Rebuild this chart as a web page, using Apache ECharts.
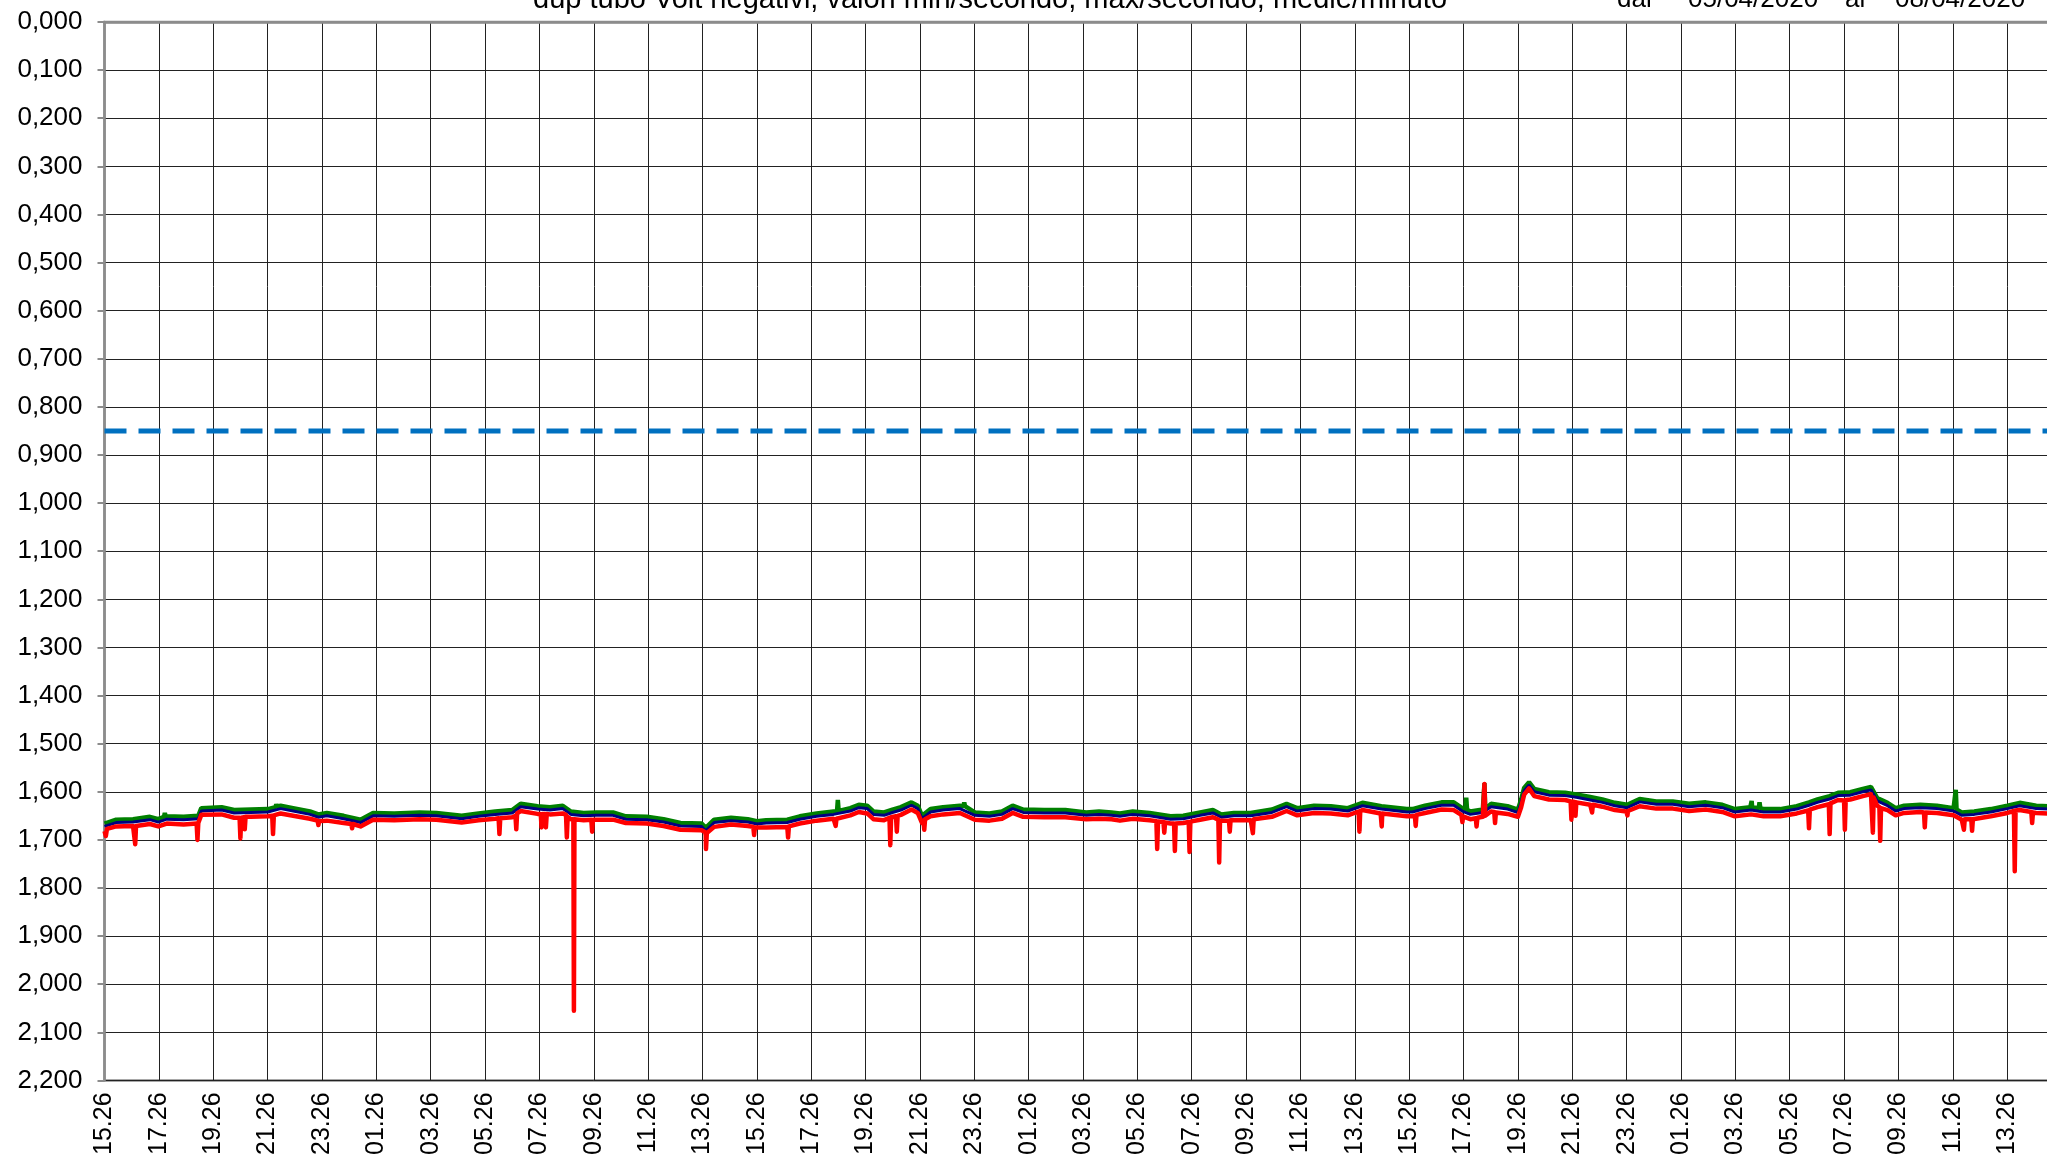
<!DOCTYPE html>
<html>
<head>
<meta charset="utf-8">
<script src="https://cdn.jsdelivr.net/npm/echarts@6/dist/echarts.min.js"></script>
<style>
  html, body { margin: 0; padding: 0; background: #fff; overflow: hidden; }
  #chart { width: 2100px; height: 1158px; }
</style>
</head>
<body>
<div id="chart"></div>
<script>
// ore dall'inizio (15.26)
const tickLabels = ['15.26','17.26','19.26','21.26','23.26','01.26','03.26','05.26','07.26','09.26','11.26','13.26',
  '15.26','17.26','19.26','21.26','23.26','01.26','03.26','05.26','07.26','09.26','11.26','13.26',
  '15.26','17.26','19.26','21.26','23.26','01.26','03.26','05.26','07.26','09.26','11.26','13.26','15.26'];

const hours = [0, 0.43, 1.05, 1.67, 1.98, 2.29, 2.91, 3.45, 3.56, 4.31, 4.77, 5.39, 6.01, 6.48, 6.94, 7.56, 7.87, 8.18, 8.8, 9.42,
  9.88, 10.66, 11.59, 12.21, 13.14, 13.76, 14.38, 15.0, 15.31, 15.93, 16.39, 16.86, 17.16, 17.63, 18.09, 18.71, 19.18, 19.95, 20.57, 21.19,
  21.97, 22.12, 22.43, 23.05, 23.67, 24.0, 24.34, 25.12, 25.58, 26.2, 26.82, 27.44, 27.75, 28.06, 28.29, 28.68, 28.99, 29.3, 29.69, 29.92,
  30.08, 30.39, 30.85, 31.47, 32.02, 32.56, 33.02, 33.41, 33.8, 34.57, 35.35, 36.12, 36.59, 37.05, 37.36, 37.83, 38.45, 39.22, 39.69, 40.31,
  40.78, 41.09, 41.55, 42.17, 42.95, 43.49, 43.88, 44.5, 45.12, 45.74, 46.28, 46.98, 47.91, 48.12, 48.58, 49.19, 49.64, 49.95, 50.25, 50.71,
  51.01, 51.62, 52.0, 52.12, 52.23, 52.41, 52.6, 53.14, 53.74, 54.2, 54.66, 55.11, 55.57, 56.02, 56.48, 57.09, 57.7, 58.3, 58.91, 59.52,
  59.98, 60.58, 61.04, 61.65, 62.26, 62.71, 63.02, 63.47, 63.78, 64.23, 64.69, 64.99, 65.22, 65.6, 65.9, 66.21, 66.81, 67.42, 68.03, 68.33,
  68.79, 69.4, 70.01, 70.46, 71.07, 71.5, 72];

const mediaMinuto = [1.672, 1.664, 1.663, 1.658, 1.663, 1.657, 1.658, 1.656, 1.640, 1.638, 1.644, 1.643, 1.642, 1.635, 1.640, 1.647, 1.653, 1.650, 1.656, 1.664,
  1.650, 1.651, 1.649, 1.650, 1.656, 1.651, 1.647, 1.644, 1.631, 1.636, 1.638, 1.635, 1.647, 1.650, 1.649, 1.649, 1.657, 1.658, 1.663, 1.671,
  1.672, 1.681, 1.664, 1.660, 1.663, 1.667, 1.665, 1.664, 1.657, 1.651, 1.647, 1.640, 1.633, 1.635, 1.647, 1.649, 1.643, 1.638, 1.628, 1.635,
  1.656, 1.642, 1.638, 1.635, 1.649, 1.651, 1.647, 1.635, 1.643, 1.644, 1.644, 1.649, 1.647, 1.649, 1.651, 1.647, 1.650, 1.657, 1.656, 1.649,
  1.644, 1.653, 1.650, 1.650, 1.643, 1.631, 1.640, 1.635, 1.636, 1.640, 1.629, 1.636, 1.642, 1.642, 1.635, 1.628, 1.628, 1.640, 1.647, 1.643,
  1.631, 1.636, 1.643, 1.622, 1.598, 1.586, 1.600, 1.607, 1.608, 1.612, 1.617, 1.622, 1.629, 1.633, 1.621, 1.626, 1.626, 1.631, 1.628, 1.633,
  1.642, 1.638, 1.642, 1.642, 1.636, 1.628, 1.622, 1.615, 1.608, 1.607, 1.600, 1.596, 1.619, 1.629, 1.640, 1.635, 1.633, 1.635, 1.640, 1.649,
  1.647, 1.642, 1.635, 1.629, 1.635, 1.636, 1.636];

const minSecondo = [1.682, 1.672, 1.671, 1.667, 1.672, 1.666, 1.668, 1.665, 1.648, 1.647, 1.654, 1.652, 1.651, 1.645, 1.650, 1.656, 1.662, 1.660, 1.665, 1.672,
  1.658, 1.659, 1.657, 1.658, 1.664, 1.659, 1.656, 1.653, 1.640, 1.646, 1.647, 1.645, 1.657, 1.659, 1.658, 1.658, 1.665, 1.666, 1.671, 1.679,
  1.680, 1.690, 1.673, 1.668, 1.671, 1.676, 1.674, 1.673, 1.666, 1.660, 1.656, 1.649, 1.642, 1.645, 1.657, 1.659, 1.653, 1.648, 1.637, 1.644,
  1.665, 1.651, 1.647, 1.644, 1.658, 1.660, 1.656, 1.644, 1.652, 1.653, 1.653, 1.657, 1.656, 1.657, 1.660, 1.656, 1.659, 1.666, 1.665, 1.658,
  1.653, 1.662, 1.659, 1.659, 1.652, 1.640, 1.649, 1.644, 1.645, 1.649, 1.638, 1.645, 1.651, 1.651, 1.644, 1.637, 1.638, 1.650, 1.657, 1.652,
  1.641, 1.646, 1.652, 1.632, 1.606, 1.593, 1.609, 1.616, 1.617, 1.622, 1.627, 1.631, 1.638, 1.642, 1.630, 1.635, 1.635, 1.640, 1.637, 1.642,
  1.651, 1.647, 1.651, 1.651, 1.645, 1.638, 1.632, 1.625, 1.617, 1.616, 1.609, 1.605, 1.629, 1.638, 1.649, 1.644, 1.642, 1.644, 1.649, 1.658,
  1.656, 1.651, 1.644, 1.638, 1.644, 1.645, 1.645];

const maxSecondo = [1.666, 1.658, 1.657, 1.652, 1.657, 1.651, 1.652, 1.650, 1.634, 1.632, 1.638, 1.637, 1.636, 1.629, 1.634, 1.641, 1.647, 1.644, 1.650, 1.658,
  1.644, 1.645, 1.643, 1.644, 1.650, 1.645, 1.641, 1.638, 1.625, 1.630, 1.632, 1.629, 1.641, 1.644, 1.643, 1.643, 1.651, 1.652, 1.657, 1.665,
  1.666, 1.675, 1.658, 1.654, 1.657, 1.661, 1.659, 1.658, 1.651, 1.645, 1.641, 1.634, 1.627, 1.629, 1.641, 1.643, 1.637, 1.632, 1.622, 1.629,
  1.650, 1.636, 1.632, 1.629, 1.643, 1.645, 1.641, 1.629, 1.637, 1.638, 1.638, 1.643, 1.641, 1.643, 1.645, 1.641, 1.644, 1.651, 1.650, 1.643,
  1.638, 1.647, 1.644, 1.644, 1.637, 1.625, 1.634, 1.629, 1.630, 1.634, 1.623, 1.630, 1.636, 1.636, 1.629, 1.622, 1.622, 1.634, 1.641, 1.637,
  1.625, 1.630, 1.637, 1.616, 1.592, 1.580, 1.594, 1.601, 1.602, 1.606, 1.611, 1.616, 1.623, 1.627, 1.615, 1.620, 1.620, 1.625, 1.622, 1.627,
  1.636, 1.632, 1.636, 1.636, 1.630, 1.622, 1.616, 1.609, 1.602, 1.601, 1.594, 1.590, 1.613, 1.623, 1.634, 1.629, 1.627, 1.629, 1.634, 1.643,
  1.641, 1.636, 1.629, 1.623, 1.629, 1.630, 1.630];

// picchi dei minimi (rosso) e dei massimi (verde)
const minSpikeHours = [0.02, 0.05, 0.09, 1.1, 1.13, 1.16, 3.39, 3.42, 3.46, 4.97, 5.0, 5.03, 5.13, 5.16, 5.19, 6.17, 6.2, 6.23,
  7.84, 7.87, 7.9, 9.08, 9.11, 9.14, 14.5, 14.53, 14.56, 15.12, 15.15, 15.18, 16.05, 16.08, 16.11, 16.21, 16.24, 16.27,
  16.98, 17.01, 17.04, 17.25, 17.27, 17.29, 17.91, 17.94, 17.97, 22.1, 22.13, 22.16, 23.87, 23.9, 23.93, 25.12, 25.15, 25.18,
  26.87, 26.9, 26.93, 28.88, 28.91, 28.94, 29.12, 29.15, 29.18, 30.13, 30.16, 30.19, 38.7, 38.73, 38.76, 38.96, 38.99, 39.02,
  39.35, 39.38, 39.41, 39.89, 39.92, 39.95, 40.98, 41.01, 41.04, 41.37, 41.4, 41.43, 42.22, 42.25, 42.28, 46.14, 46.17, 46.2,
  46.95, 46.99, 47.01, 48.21, 48.24, 48.27, 49.92, 49.96, 49.98, 50.45, 50.48, 50.51, 50.74, 50.77, 50.8, 51.13, 51.16, 51.19,
  53.94, 53.97, 54.0, 54.09, 54.12, 54.15, 54.7, 54.73, 54.76, 55.99, 56.03, 56.05, 62.68, 62.71, 62.74, 63.44, 63.47, 63.5,
  64.0, 64.03, 64.06, 65.03, 65.06, 65.09, 65.3, 65.33, 65.36, 66.94, 66.97, 67.0, 68.38, 68.41, 68.44, 68.68, 68.71, 68.74,
  70.25, 70.28, 70.31, 70.89, 70.92, 70.95];
const minSpikeVals = [1.679, 1.692, 1.677, 1.671, 1.709, 1.671, 1.666, 1.700, 1.662, 1.654, 1.697, 1.654, 1.653, 1.678, 1.652, 1.650, 1.688, 1.649,
  1.660, 1.669, 1.661, 1.667, 1.676, 1.667, 1.655, 1.688, 1.655, 1.650, 1.678, 1.645, 1.646, 1.674, 1.646, 1.646, 1.674, 1.646,
  1.648, 1.695, 1.652, 1.657, 2.055, 1.657, 1.658, 1.683, 1.658, 1.684, 1.719, 1.686, 1.673, 1.690, 1.674, 1.673, 1.695, 1.672,
  1.656, 1.671, 1.656, 1.654, 1.711, 1.653, 1.651, 1.683, 1.650, 1.660, 1.679, 1.657, 1.661, 1.719, 1.662, 1.663, 1.685, 1.664,
  1.666, 1.723, 1.666, 1.663, 1.725, 1.662, 1.658, 1.747, 1.660, 1.660, 1.683, 1.659, 1.658, 1.686, 1.657, 1.641, 1.683, 1.640,
  1.645, 1.672, 1.645, 1.650, 1.671, 1.648, 1.648, 1.663, 1.651, 1.655, 1.672, 1.654, 1.652, 1.584, 1.650, 1.642, 1.665, 1.643,
  1.620, 1.658, 1.620, 1.621, 1.650, 1.622, 1.627, 1.643, 1.627, 1.641, 1.649, 1.640, 1.639, 1.676, 1.637, 1.626, 1.688, 1.624,
  1.618, 1.679, 1.617, 1.606, 1.685, 1.612, 1.632, 1.702, 1.634, 1.643, 1.674, 1.643, 1.657, 1.679, 1.657, 1.657, 1.681, 1.657,
  1.640, 1.765, 1.639, 1.642, 1.665, 1.643];

const maxSpikeHours = [2.19, 2.22, 2.25, 6.29, 6.32, 6.35, 26.95, 26.98, 27.01, 31.6, 31.63, 31.66, 50.07, 50.1, 50.13,
  50.74, 50.77, 50.8, 60.55, 60.6, 60.62, 60.86, 60.89, 60.92, 68.08, 68.11, 68.14];
const maxSpikeVals = [1.652, 1.644, 1.651, 1.632, 1.626, 1.631, 1.641, 1.617, 1.640, 1.630, 1.622, 1.630, 1.636, 1.612, 1.637,
  1.637, 1.582, 1.636, 1.632, 1.619, 1.632, 1.634, 1.622, 1.634, 1.634, 1.596, 1.637];

const thresholdHours = [0, 72];
const thresholdVolt = [0.85, 0.85];

function buildLine(h, v, sh, sv) {
  const pts = h.map((t, i) => [t, v[i]]);
  if (sh) sh.forEach((t, i) => pts.push([t, sv[i]]));
  pts.sort((a, b) => a[0] - b[0]);
  return pts;
}

const chart = echarts.init(document.getElementById('chart'), null, { renderer: 'canvas' });
const font = '"Liberation Sans", Arial, sans-serif';
const txt = (x, s, size) => ({ type: 'text', left: x, top: -Math.round(size * 0.5), style: { text: s, font: size + 'px ' + font, fill: '#000' } });

const option = {
  backgroundColor: '#ffffff',
  animation: false,
  grid: {
    left: 104.5, top: 22, width: 1957, height: 1060,
    show: true, borderColor: '#8c8c8c', borderWidth: 2.5, backgroundColor: 'transparent'
  },
  graphic: [
    txt(533, 'dup tubo Volt negativi, valori min/secondo, max/secondo, medie/minuto', 29),
    txt(1617, 'dal', 26),
    txt(1688, '05/04/2020', 26),
    txt(1845, 'al', 26),
    txt(1895, '08/04/2020', 26)
  ],
  xAxis: {
    type: 'value', min: 0, max: 72, interval: 2,
    axisLine: { show: true, lineStyle: { color: '#8c8c8c', width: 2.5 } },
    axisTick: { show: false },
    splitLine: { show: true, lineStyle: { color: '#222', width: 1 } },
    axisLabel: {
      rotate: 90, margin: 12, fontSize: 25, fontFamily: font, color: '#000',
      formatter: v => tickLabels[Math.round(v / 2)]
    }
  },
  yAxis: {
    type: 'value', inverse: true, min: 0, max: 2.2, interval: 0.1,
    axisLine: { show: true, lineStyle: { color: '#8c8c8c', width: 2.5 } },
    axisTick: { show: true, inside: false, length: 7, lineStyle: { color: '#8c8c8c', width: 2 } },
    splitLine: { show: true, lineStyle: { color: '#222', width: 1 } },
    axisLabel: {
      margin: 22, fontSize: 26, fontFamily: font, color: '#000',
      formatter: v => v.toFixed(3).replace('.', ',')
    }
  },
  series: [
    {
      name: 'soglia', type: 'line', symbol: 'none',
      data: buildLine(thresholdHours, thresholdVolt),
      lineStyle: { color: '#0070C0', width: 5, type: [22, 12] }
    },
    {
      name: 'max/secondo', type: 'line', symbol: 'none',
      data: buildLine(hours, maxSecondo, maxSpikeHours, maxSpikeVals),
      lineStyle: { color: '#008000', width: 4.5 }
    },
    {
      name: 'medie/minuto', type: 'line', symbol: 'none',
      data: buildLine(hours, mediaMinuto),
      lineStyle: { color: '#000080', width: 3 }
    },
    {
      name: 'min/secondo', type: 'line', symbol: 'none',
      data: buildLine(hours, minSecondo, minSpikeHours, minSpikeVals),
      lineStyle: { color: '#ff0000', width: 4.5, join: 'round' }
    }
  ]
};

chart.setOption(option);
</script>
</body>
</html>
